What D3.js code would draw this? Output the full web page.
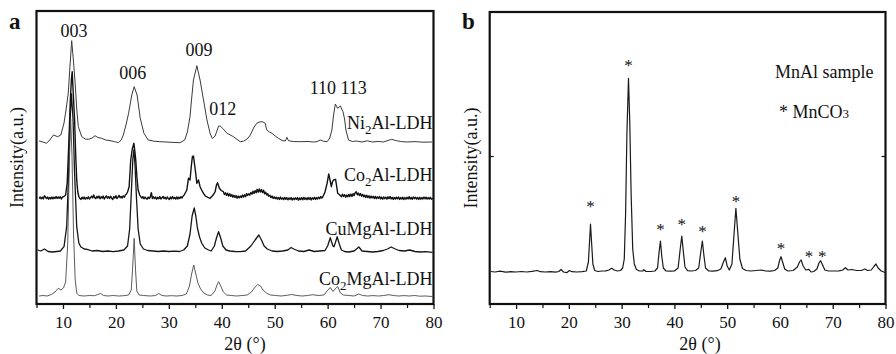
<!DOCTYPE html>
<html><head><meta charset="utf-8">
<script src="https://cdn.jsdelivr.net/npm/d3@7"></script>
<style>
body{margin:0;background:#fff}
svg{display:block}
</style>
</head><body>
<svg id="c" width="896" height="354"></svg>
<script>
// ---------- DATA ----------
const xTicks = [10,20,30,40,50,60,70,80];
const xMinorTicks = [5,15,25,35,45,55,65,75];

// Panel a: stacked XRD patterns [2theta, intensity (a.u., offset as plotted)]
const ni2al = [[5.5,163],[6.2,162],[6.9,160.7],[7.5,164],[8.2,169],[9.0,167.3],[9.6,169],[10.2,181],[10.6,195],[11.0,211],[11.35,240],[11.65,263.3],[11.95,245],[12.3,221],[12.6,195],[12.9,177.3],[13.55,167.3],[14.2,165],[14.8,164.7],[15.5,166],[16.05,168.3],[16.6,166.5],[17.3,165.7],[18.1,164],[18.9,163.3],[19.7,162.5],[20.5,161.3],[21.0,164],[21.4,169],[21.9,179],[22.4,190.7],[23.0,209],[23.45,217.3],[24.0,209],[24.6,185.7],[25.3,170.7],[26.1,164],[27.2,162.8],[28.3,162.3],[29.5,162],[30.8,161.6],[32.1,161.3],[33.0,164],[33.5,172],[34.0,187.3],[34.3,205],[34.65,224],[35.3,238.3],[35.9,224],[36.55,204],[37.2,184],[37.8,170.7],[38.2,165.5],[38.75,168],[39.4,178],[39.7,178],[40.2,175.5],[41.0,170.7],[42.2,167.3],[43.5,162.3],[44.1,162.8],[44.8,165],[45.4,169],[46.0,176],[46.6,180.7],[47.1,182],[47.6,182.3],[48.0,181.5],[48.2,180.7],[48.5,174],[49.0,172],[49.5,170.7],[50.1,168],[50.7,165.7],[51.4,163.5],[52.0,163],[52.3,166.7],[52.6,163.3],[53.5,162.5],[54.8,162.3],[56.3,162.5],[57.3,162],[58.0,162.3],[58.6,164],[59.2,162.8],[59.9,162.3],[60.4,166],[60.8,174],[61.1,188],[61.45,200],[61.9,195.7],[62.4,198],[62.9,192.3],[63.2,185],[63.45,174],[63.95,164],[64.7,162.5],[65.4,163],[66.5,162],[67.5,163.2],[68.5,162],[69.5,162.6],[70.5,162],[71.4,163.5],[72.1,164.7],[72.8,163.5],[73.8,162.5],[75,162],[76.5,162.4],[78,161.8],[79.7,162]];

const co2al = [[5.5,105.5],[5.7,107],[5.9,105.2],[6.1,106.8],[6.3,105],[6.5,108.2],[6.7,107],[6.9,105.4],[7.1,106.9],[7.3,104.8],[7.5,106.6],[7.7,105.1],[7.9,107],[8.1,105.2],[8.3,106.9],[8.5,105.5],[8.7,107.4],[8.9,105.5],[9.1,107.1],[9.3,105.8],[9.5,107.3],[9.7,105],[9.9,106.8],[10.1,107.4],[10.3,108],[10.5,109],
[10.8,121],[11.1,160],[11.4,205],[11.6,225],[11.75,232.3],[11.9,215],[12.2,184],[12.4,150],[12.6,124],[12.8,112],
[13.0,107.3],[13.2,105.5],[13.4,104.6],[13.6,106.8],[13.8,105.2],[14.0,107],[14.2,104.8],[14.4,106.5],[14.6,105.3],[14.8,107.2],[15.0,105],[15.2,106.4],[15.4,107.8],[15.6,106],[15.8,109],[16.0,106.2],[16.2,105.4],[16.4,107.6],[16.6,106],[16.8,108],[17.0,105.2],[17.2,107.3],[17.4,105.8],[17.6,107.9],[17.8,105],[18.0,106.6],[18.2,108.2],[18.4,105.8],[18.6,107.3],[18.8,105.5],[19.0,107.8],[19.2,105.9],[19.4,104.5],[19.6,107.4],[19.8,106],[20.0,108.3],[20.2,105.5],[20.4,107],[20.6,108.6],[20.8,106.2],[21.0,107.5],[21.2,106],[21.4,108.2],[21.6,106.8],[21.8,109],[22.0,110],[22.2,112],
[22.5,117.3],[22.8,144],[23.1,155],[23.4,160.7],[23.6,152],[23.75,144],[24.0,125],[24.2,114],[24.5,109],
[24.7,107.3],[24.9,105.8],[25.1,107.4],[25.3,105.2],[25.5,107],[25.7,105.6],[25.9,104.8],[26.1,106.9],[26.3,105.5],[26.5,107],[26.7,111.3],[26.9,105.5],[27.1,107.2],[27.3,105.4],[27.5,106.9],[27.7,104.8],[27.9,106.7],[28.1,105.3],[28.3,107.4],[28.5,105],[28.7,106.2],[28.9,107.6],[29.1,105.4],[29.3,106.8],[29.5,104.9],[29.7,107],[29.9,105.6],[30.1,104.6],[30.3,106.9],[30.5,105.2],[30.7,107.5],[30.9,105.3],[31.1,106.6],[31.3,104.9],[31.5,107.1],[31.7,105],[31.9,106.8],[32.1,105.5],[32.3,107.4],[32.5,106],[32.7,108],[32.9,109],
[33.4,114],[33.7,125.7],[34.0,124],[34.25,138],[34.45,147.3],[34.65,148],[34.85,140],[35.0,134],[35.3,120.7],[35.6,124],[35.9,117.3],[36.2,114],[36.55,110.7],[36.9,108],[37.3,106.8],[37.8,105.7],[38.2,108],[38.5,110],[38.75,112.3],[39.0,119],[39.2,121.3],[39.55,115.7],[39.9,113.5],
[40.3,112.3],[40.5,109.5],[40.7,111.2],[40.9,108.6],[41.1,110.8],[41.3,108],[41.5,110.2],[41.7,107.6],[41.9,109.4],[42.1,106.8],[42.3,108.7],[42.5,106.5],[42.7,108.3],[42.9,105.8],[43.1,107.9],[43.3,106.2],[43.5,108],[43.7,106.4],[43.9,108.9],[44.1,106.9],[44.3,109.2],[44.5,107.3],[44.7,110.4],[44.9,108.5],[45.1,110.2],[45.3,108.9],[45.5,111.5],[45.7,109.8],[45.9,112.8],[46.1,110.6],[46.3,113.4],[46.5,111.2],[46.7,114.7],[46.9,111.8],[47.1,115],[47.3,112],[47.5,114.6],[47.7,111.4],[47.9,113.8],[48.1,110.2],[48.3,111.8],[48.5,108.9],[48.7,110.3],[48.9,107.6],[49.1,108.8],[49.3,106.4],[49.5,107.9],[49.7,105.6],[49.9,107.2],[50.1,105.3],[50.3,106.8],[50.5,104.9],[50.7,106.5],[50.9,104.6],[51.1,106.9],[51.3,104.8],[51.5,106.2],[51.7,104.4],[51.9,106.6],[52.1,104.7],[52.3,106.3],[52.5,104.2],[52.7,106.1],[52.9,104.6],[53.1,106.4],[53.3,104],[53.5,105.9],[53.7,104.3],[53.9,106.2],[54.1,104.5],[54.3,106.5],[54.5,103.8],[54.7,106],[54.9,104.4],[55.1,106.3],[55.3,104.2],[55.5,106.6],[55.7,104.7],[55.9,106.2],[56.1,104.3],[56.3,106.5],[56.5,104.6],[56.7,106.4],[56.9,104.1],[57.1,106.2],[57.3,104.8],[57.5,106.7],[57.7,104.6],[57.9,106.4],[58.1,105],[58.3,106.8],[58.5,105.3],[58.7,107.4],[58.9,106],[59.1,107.3],
[59.5,112],[59.9,120.7],[60.2,130],[60.45,124],[60.7,117.3],[60.9,122],[61.1,124],[61.5,124.7],[61.7,118],[61.9,110.7],[62.2,109.5],
[62.6,107.3],[62.8,109.8],[63.0,107.5],[63.2,109.3],[63.4,106.8],[63.6,108.9],[63.8,107.2],[64.0,109.6],[64.2,107.4],[64.4,109.9],[64.6,107.6],[64.8,110.3],[65.0,108.4],[65.2,111.2],[65.4,112.3],[65.6,109.2],[65.8,111],[66.0,108.6],[66.2,110.4],[66.4,107.8],[66.6,109.6],[66.8,107.2],[67.0,109],[67.2,106.6],[67.4,108.8],[67.6,106.4],[67.8,108.2],[68.0,105.9],[68.2,108],[68.4,106.1],[68.6,107.7],[68.8,105.5],[69.0,107.6],[69.2,105.3],[69.4,107.2],[69.6,105.6],[69.8,107.4],[70.0,105.1],[70.2,106.9],[70.4,104.8],[70.6,107],[70.8,105.3],[71.0,106.8],[71.2,104.9],[71.4,107.2],[71.6,105.4],[71.8,107.5],[72.0,105.1],[72.2,106.7],[72.4,104.7],[72.6,106.6],[72.8,104.9],[73.0,106.8],[73.2,105.2],[73.4,107],[73.6,104.6],[73.8,106.4],[74.0,104.9],[74.2,106.8],[74.4,104.5],[74.6,106.5],[74.8,104.8],[75.0,106.7],[75.2,105.1],[75.4,107.3],[75.6,105],[75.8,106.6],[76.0,104.7],[76.2,107],[76.4,105.3],[76.6,106.8],[76.8,104.9],[77.0,106.4],[77.2,104.6],[77.4,106.7],[77.6,104.8],[77.8,106.5],[78.0,105],[78.2,106.9],[78.4,105.2],[78.6,106.8],[78.8,104.9],[79.0,106.4],[79.2,105],[79.4,106.6],[79.6,104.8],[79.9,105.7]];

const cumgal = [[5.2,54],[5.8,53],[6.5,55],[7.2,52.5],[8.0,52],[8.8,52.5],[9.5,53],[10.2,57.3],[10.7,77.3],[11.0,120],[11.3,180],[11.6,210],[11.9,185],[12.2,130],[12.6,77.3],[13.0,61],[13.35,57.3],[14.0,55],[14.6,54.7],[15.5,53],[16.5,53.5],[17.5,52.5],[18.5,53],[19.5,52.3],[20.5,53],[21.5,54],[22.2,58],[22.6,75],[22.9,110],[23.2,145],[23.4,154],[23.6,140],[23.9,105],[24.2,75],[24.6,60],[25.2,55],[26.0,53.5],[27,53],[28,52.5],[29,53],[30,52.5],[31,52.8],[32,52.5],[32.8,54],[33.5,58],[34.0,70],[34.4,88],[34.8,96],[35.1,88],[35.4,76],[35.8,67],[36.2,61],[36.8,56],[37.5,54],[38.0,53],[38.6,58],[39.0,66],[39.4,72.3],[39.8,66],[40.2,58],[40.8,54],[41.5,53],[42.5,52.5],[43.5,52.3],[44.5,53],[45.5,58],[46.3,64],[47.0,69],[47.5,64],[48.0,58],[48.6,55],[49.5,53],[50.5,52.5],[51.5,53],[52.5,54],[53.1,56.5],[53.6,55],[54.5,53],[55.5,52.5],[56.5,54],[57.5,52.5],[58.5,53],[59.5,53.5],[60.0,58],[60.5,66.3],[61.0,58],[61.2,57.3],[61.5,62],[61.8,67.3],[62.2,60],[62.6,54],[63.2,52.5],[64,52],[65,53],[65.9,57],[66.5,53],[67.5,52.5],[68.5,52],[69.5,52.5],[70.5,53.5],[71.3,55],[72,57],[72.8,55],[73.5,53.5],[74.5,53],[75.5,54],[76.5,52.5],[77.5,52],[78.5,52.3],[79.8,51.7]];

const co2mgal = [[5.5,8],[6.2,8.5],[7.0,8],[7.8,9.5],[8.5,12],[9.1,15.7],[9.6,14],[10.1,16],[10.5,22],[10.9,60],[11.2,140],[11.45,185],[11.7,150],[12.0,70],[12.3,25],[12.6,11],[13.0,8.5],[14,8],[15,8.5],[16,8.3],[17.1,10.5],[17.7,8.5],[18.5,8],[19.5,8.5],[20.5,8],[21.5,8.3],[22.4,9],[22.9,14],[23.15,35],[23.45,65.7],[23.7,35],[23.95,13],[24.4,9],[25.2,8.5],[26.5,8],[27.5,8.5],[28.1,10.5],[28.7,8.5],[29.5,8],[30.5,8.3],[31.5,8],[32.5,8.5],[33.3,10],[33.9,18],[34.3,30],[34.7,39],[35.1,30],[35.5,21],[36.0,15],[36.6,11],[37.3,9],[38.0,8.5],[38.7,13],[39.1,19],[39.4,22.3],[39.8,18],[40.3,12],[40.9,9],[41.8,8.5],[42.8,8],[43.8,8.5],[44.8,9],[45.6,12],[46.3,17],[46.8,19.5],[47.3,18],[47.8,14],[48.4,11],[49.2,9],[50.2,8.5],[51.2,8],[52.2,8.6],[53.2,9.5],[54.2,8.5],[55.2,8],[56.2,8.5],[57.2,9.3],[58.2,8.5],[59.3,9],[59.9,13],[60.5,16.5],[61.0,12.5],[61.4,15],[61.9,17.5],[62.4,11],[63.0,9],[64,8.5],[65,8],[65.9,10],[66.6,8.5],[67.6,8],[68.6,8.4],[69.6,8],[70.6,8.5],[71.6,9.3],[72.4,8.5],[73.4,8],[74.4,8.4],[75.4,8],[76.4,8.5],[77.4,7.8],[78.4,8],[79.8,7.5]];

const seriesNamesA = [["Ni","2","Al-LDH"],["Co","2","Al-LDH"],["CuMgAl-LDH","",""],["Co","2","MgAl-LDH"]];
const seriesLabelLevelA = [175, 123, 69, 19];
const peakLabelsA = [["003",12.1,267],["006",23.2,225],["009",35.7,248],["012",40.2,189],["110",59.1,210],["113",64.9,210]];

// Panel b: MnAl sample
const mnal = [[5.2,32.5],[6,32],[7,32.8],[8,31.8],[9,32.3],[10,32],[11,32.5],[12,32],[13,32.6],[14,33.5],[14.6,32.3],[15.5,32],[16.5,32.4],[17.5,31.8],[18.1,32.5],[18.5,34.5],[19.0,32],[19.6,31.3],[20.1,33.5],[20.6,32.3],[21.5,32],[22.5,32.4],[23.3,33],[23.7,42],[23.95,65],[24.1,80],[24.3,62],[24.55,40],[24.9,33.5],[25.5,32.5],[26.3,33],[27.0,33.2],[27.6,34],[28.1,35.7],[28.6,34],[29.2,33],[29.8,33.5],[30.2,36],[30.5,45],[30.75,90],[31.0,170],[31.3,225.7],[31.55,180],[31.8,110],[32.1,55],[32.4,40],[32.8,34.5],[33.4,33],[34.0,33],[34.2,34.3],[34.6,32.5],[35.5,32.5],[36.3,33],[36.8,36],[37.1,52],[37.35,63],[37.6,48],[37.9,36],[38.4,33],[39.2,32.8],[40.0,33],[40.7,36],[41.1,55],[41.4,68],[41.7,52],[42.0,37],[42.5,33.3],[43.2,33],[44.0,33.5],[44.6,36],[45.0,52],[45.3,63],[45.6,48],[45.9,36],[46.5,33],[47.3,32.8],[48.1,33.3],[48.8,35],[49.3,42],[49.65,46.3],[50.0,38],[50.4,34],[50.9,40],[51.3,70],[51.65,95.7],[52.0,72],[52.4,45],[52.9,35.5],[53.6,33.5],[54.5,33],[55.5,33.5],[56.4,34],[57.3,33],[58.2,32.8],[59.0,33.5],[59.6,36],[59.9,43],[60.2,47.3],[60.5,42],[60.9,35],[61.5,33],[62.5,33.5],[63.3,37],[63.7,42],[64.0,44],[64.4,38],[64.9,34],[65.5,34.7],[65.9,32],[66.4,32.5],[67.0,35],[67.4,41],[67.7,43.3],[68.0,40],[68.5,34],[69.2,33],[70.2,33],[71.2,33.2],[71.9,34],[72.4,36.3],[72.9,34],[73.6,34.5],[74.5,33.5],[75.4,33.5],[76.1,35],[76.6,33.5],[77.3,34],[77.8,37.5],[78.2,40],[78.6,36],[79.2,33],[79.9,31.5]];
const mnco3Marks = [[24.1,101.3],[31.3,242.3],[37.35,78],[41.4,83.3],[45.3,75.7],[51.65,105.7],[60.2,59],[65.5,51.3],[68.0,51.3]];

// ---------- DRAWING ----------
const FONT = '"Liberation Serif"';
const svg = d3.select("#c");

function panel(o){
  const x = d3.scaleLinear().domain([5,80]).range(o.xr);
  const y = d3.scaleLinear().domain(o.yd).range(o.yr);
  const g = svg.append("g");
  const ax = d3.axisBottom(x).tickValues(xTicks).tickSizeInner(5).tickSizeOuter(0).tickPadding(7);
  const axg = g.append("g").attr("transform",`translate(0,${o.yr[0]})`).call(ax);
  axg.select(".domain").remove();
  axg.selectAll("line").attr("stroke","#111").attr("stroke-width",1.3);
  axg.selectAll("text").style("font-size","17px");
  const axm = d3.axisBottom(x).tickValues(xMinorTicks).tickSizeInner(4).tickSizeOuter(0).tickFormat("");
  const amg = g.append("g").attr("transform",`translate(0,${o.yr[0]})`).call(axm);
  amg.select(".domain").remove();
  amg.selectAll("line").attr("stroke","#111").attr("stroke-width",1.2);
  if(o.yTick){
    const al = d3.axisLeft(y).tickValues([o.yTick]).tickSize(-4).tickFormat("");
    const alg = g.append("g").attr("transform",`translate(${o.xr[0]},0)`).call(al);
    alg.select(".domain").remove();
    alg.selectAll("line").attr("stroke","#111").attr("stroke-width",1.2);
    const ar = d3.axisRight(y).tickValues([o.yTick]).tickSize(-4).tickFormat("");
    const arg = g.append("g").attr("transform",`translate(${o.xr[1]},0)`).call(ar);
    arg.select(".domain").remove();
    arg.selectAll("line").attr("stroke","#111").attr("stroke-width",1.2);
  }
  g.append("rect").attr("x",o.xr[0]).attr("y",o.yr[1]).attr("width",o.xr[1]-o.xr[0]).attr("height",o.yr[0]-o.yr[1])
    .attr("fill","none").attr("stroke","#111").attr("stroke-width",2.2);
  g.append("text").attr("x",o.titleX).attr("y",350).attr("text-anchor","middle").style("font-size","18px").text("2θ (°)");
  g.append("text").attr("transform",`translate(${o.ylabX},${(o.yr[0]+o.yr[1])/2}) rotate(-90)`).attr("text-anchor","middle")
    .style("font-size","18px").text("Intensity(a.u.)");
  g.append("text").attr("x",o.letterX).attr("y",29).style("font-size","23px").style("font-weight","bold").text(o.letter);
  return {x,y,g};
}

const line = (x,y)=>d3.line().x(d=>x(d[0])).y(d=>y(d[1]));

// Panel a
const A = panel({xr:[36.5,433.5], yr:[304,11], yd:[0,293], titleX:245, ylabX:23, letterX:9, letter:"a"});
const seriesA = [ni2al, co2al, cumgal, co2mgal];
const strokeA = [["#3a3a3a",1.0],["#111",1.4],["#151515",1.3],["#4a4a4a",0.9]];
A.g.append("clipPath").attr("id","ca").append("rect")
  .attr("x",36.5).attr("y",11).attr("width",397).attr("height",293);
seriesA.forEach((s,i)=>{
  A.g.append("path").datum(s).attr("d",line(A.x,A.y)).attr("fill","none")
    .attr("stroke",strokeA[i][0]).attr("stroke-width",strokeA[i][1]).attr("stroke-linejoin","round")
    .attr("clip-path","url(#ca)");
});
peakLabelsA.forEach(p=>{
  A.g.append("text").attr("x",A.x(p[1])).attr("y",A.y(p[2])).attr("text-anchor","middle").style("font-size","18px").text(p[0]);
});
seriesNamesA.forEach((n,i)=>{
  const t = A.g.append("text").attr("x",432.5).attr("y",A.y(seriesLabelLevelA[i])).attr("text-anchor","end").style("font-size","18px");
  t.append("tspan").text(n[0]);
  if(n[1]){
    t.append("tspan").attr("dy",5).style("font-size","13px").text(n[1]);
    t.append("tspan").attr("dy",-5).text(n[2]);
  }
});

// Panel b
const B = panel({xr:[489.7,885.5], yr:[304,12], yd:[0,292], titleX:700, ylabX:477, letterX:462, letter:"b", yTick:148});
B.g.append("path").datum(mnal).attr("d",line(B.x,B.y)).attr("fill","none")
  .attr("stroke","#1a1a1a").attr("stroke-width",1.2).attr("stroke-linejoin","round");
mnco3Marks.forEach(m=>{
  B.g.append("text").attr("x",B.x(m[0])).attr("y",B.y(m[1])+9).attr("text-anchor","middle").style("font-size","17px").text("*");
});
B.g.append("text").attr("x",775).attr("y",78).style("font-size","18px").text("MnAl sample");
const lg = B.g.append("text").attr("x",779).attr("y",118).style("font-size","18px");
lg.append("tspan").text("* MnCO");
lg.append("tspan").style("font-size","13px").text("3");

// serif font applied inline on every text
svg.selectAll("g").attr("font-family",null);
svg.selectAll("text").style("font-family",FONT).attr("fill","#111");
</script>
</body></html>
